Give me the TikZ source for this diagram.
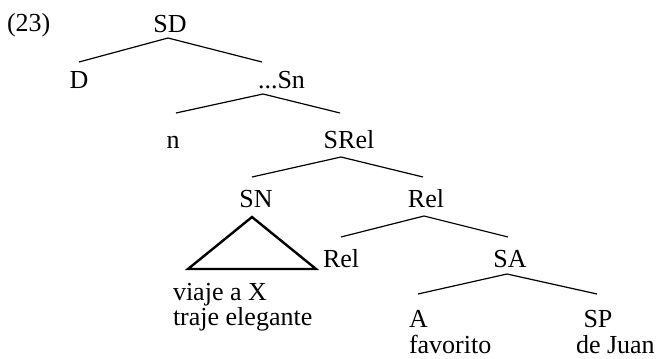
\documentclass[tikz,border=0pt]{standalone}
\usepackage{fontspec}
\setmainfont{Liberation Serif}
\begin{document}
\begin{tikzpicture}[x=1pt,y=-1pt,
  lbl/.style={inner sep=0pt,outer sep=0pt,font=\fontsize{26}{29}\selectfont},
  branch/.style={line width=1.2pt},
  tri/.style={line width=2.4pt,line join=miter}]
\useasboundingbox (0,0) rectangle (657,359);
% labels
\node[lbl,anchor=base west] (ex) at (7,31) {(23)};
\node[lbl,anchor=base] (SD) at (170,32) {SD};
\node[lbl,anchor=base] (D) at (79,88) {D};
\node[lbl,anchor=base west] (Sn) at (258,88) {...Sn};
\node[lbl,anchor=base] (n) at (173,148) {n};
\node[lbl,anchor=base] (SRel) at (349,148) {SRel};
\node[lbl,anchor=base] (SN) at (256,207) {SN};
\node[lbl,anchor=base] (RelA) at (426,207) {Rel};
\node[lbl,anchor=base west] (RelB) at (323,267) {Rel};
\node[lbl,anchor=base] (SA) at (510,267) {SA};
\node[lbl,anchor=base west] (A) at (409,327) {A};
\node[lbl,anchor=base] (SP) at (598,327) {SP};
\node[lbl,anchor=base west] (fav) at (409,353) {favorito};
\node[lbl,anchor=base west] (juan) at (576,353) {de Juan};
\node[lbl,anchor=base west] (viaje) at (173,300) {viaje a X};
\node[lbl,anchor=base west] (traje) at (173,325) {traje elegante};
% branch points
\coordinate (SD-b) at (168,38);
\coordinate (D-t) at (79,62);
\coordinate (Sn-t) at (262,62);
\coordinate (Sn-b) at (263,94);
\coordinate (n-t) at (176,113);
\coordinate (SRel-t) at (340,113);
\coordinate (SRel-b) at (341,157);
\coordinate (SN-t) at (252,177);
\coordinate (RelA-t) at (423,177);
\coordinate (SN-b) at (252,217);
\coordinate (tri-l) at (188,269);
\coordinate (tri-r) at (316,269);
\coordinate (RelA-b) at (424,216);
\coordinate (RelB-t) at (341,237);
\coordinate (SA-t) at (508,237);
\coordinate (SA-b) at (507,274);
\coordinate (A-t) at (418,294);
\coordinate (SP-t) at (597,294);
% branches
\draw[branch] (D-t) -- (SD-b) -- (Sn-t);
\draw[branch] (n-t) -- (Sn-b) -- (SRel-t);
\draw[branch] (SN-t) -- (SRel-b) -- (RelA-t);
\draw[branch] (RelB-t) -- (RelA-b) -- (SA-t);
\draw[branch] (A-t) -- (SA-b) -- (SP-t);
\draw[tri] (SN-b) -- (tri-l) -- (tri-r) -- cycle;
\end{tikzpicture}
\end{document}
